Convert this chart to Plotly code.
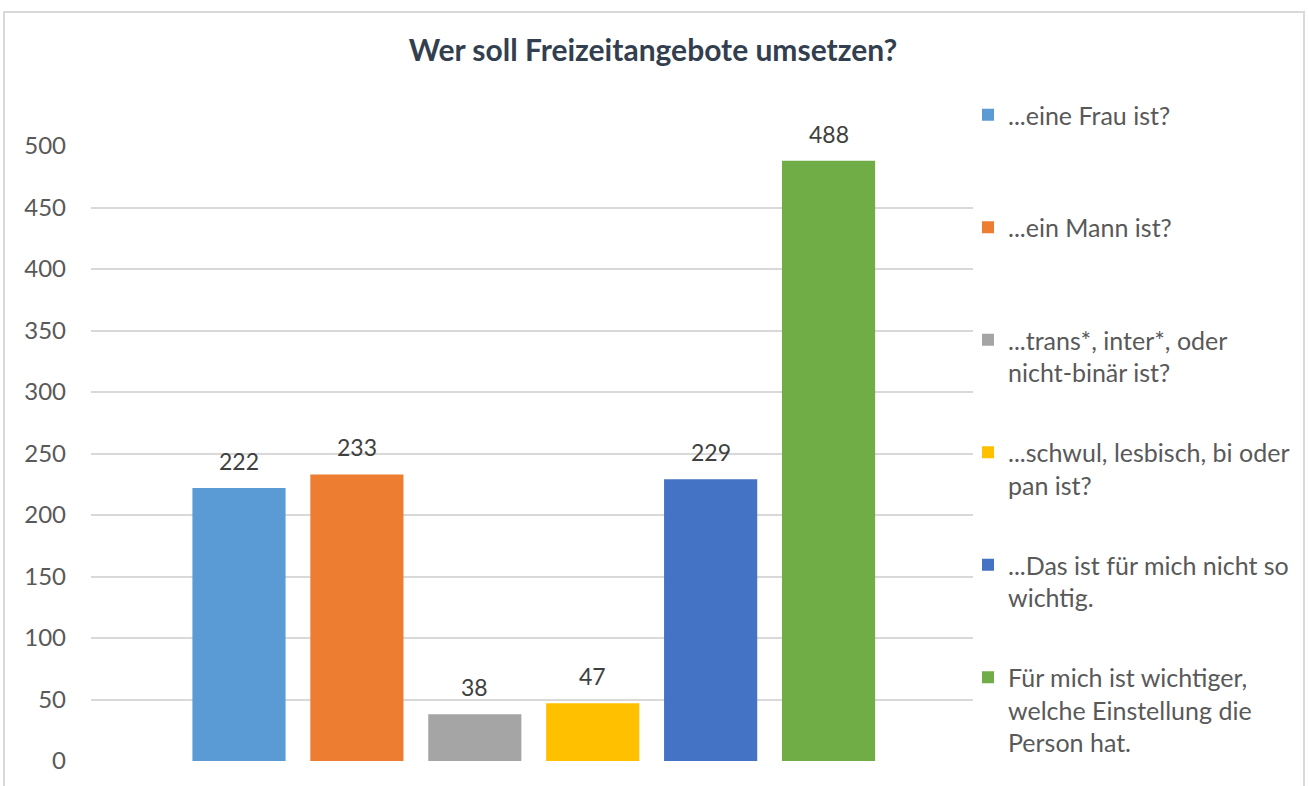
import plotly.graph_objects as go

# ---- data ----
series_names = [
    "...eine Frau ist?",
    "...ein Mann ist?",
    "...trans*, inter*, oder<br>nicht-binär ist?",
    "...schwul, lesbisch, bi oder<br>pan ist?",
    "...Das ist für mich nicht so<br>wichtig.",
    "Für mich ist wichtiger,<br>welche Einstellung die<br>Person hat.",
]
series_keys = ["Frau", "Mann", "trans", "schwul", "unwichtig", "Einstellung"]
values = [222, 233, 38, 47, 229, 488]
colors = ["#5B9BD5", "#ED7D31", "#A5A5A5", "#FFC000", "#4472C4", "#70AD47"]
y_ticks = [0, 50, 100, 150, 200, 250, 300, 350, 400, 450, 500]
title_text = "Wer soll Freizeitangebote umsetzen?"

FONT = "Lato"

def pad_lines(label, n=3):
    k = label.count("<br>") + 1
    return label + "<br> " * (n - k)

fig = go.Figure()
for key, name, val, col in zip(series_keys, series_names, values, colors):
    fig.add_trace(go.Bar(
        x=[key], y=[val], name=pad_lines(name), legendgroup=key,
        marker=dict(color=col, line=dict(width=0)), width=0.79,
        hoverinfo="skip",
    ))
    fig.add_annotation(
        x=key, y=val, text=str(val), showarrow=False, yanchor="bottom",
        yshift=11, font=dict(family=FONT, size=23, color="#404040"),
    )

W, H = 1309, 786
L, R, T, B = 91, 1309 - 973, 146, 786 - 761
pw, ph = W - L - R, H - T - B

def px_x(p):
    return (p - L) / pw

def px_y(p):
    return (H - B - p) / ph

# chart border
fig.add_shape(type="rect", xref="paper", yref="paper",
              x0=px_x(4), x1=px_x(1304), y0=px_y(800), y1=px_y(12),
              line=dict(color="#D9D9D9", width=2), layer="below")

fig.update_layout(
    width=W, height=H,
    margin=dict(l=L, r=R, t=T, b=B, autoexpand=False),
    paper_bgcolor="white", plot_bgcolor="white",
    barmode="overlay",
    title=dict(text="<b>" + title_text + "</b>", x=px_x(653), xref="paper",
               xanchor="center", y=1 - 50 / H, yanchor="middle",
               font=dict(family=FONT, size=30, color="#333F4F")),
    font=dict(family=FONT, color="#595959"),
    showlegend=True,
    legend=dict(x=px_x(968), xanchor="left", y=px_y(92), yanchor="top",
                valign="top", tracegroupgap=12, traceorder="grouped",
                maxheight=1.0,
                font=dict(family=FONT, size=25, color="#595959"),
                bgcolor="rgba(0,0,0,0)"),
    xaxis=dict(type="category", showticklabels=False, showgrid=False,
               zeroline=False, showline=False, ticks="", automargin=False,
               range=[-1.255, 6.225], fixedrange=True),
    yaxis=dict(range=[0, 500], tickvals=y_ticks, showgrid=True,
               gridcolor="#D9D9D9", gridwidth=1.5, zeroline=False,
               showline=False, ticks="", ticklabelstandoff=24, automargin=False,
               fixedrange=True,
               tickfont=dict(family=FONT, size=24, color="#595959")),
)

fig.write_html(
    "out.html",
    config={"displayModeBar": False},
    post_script="document.body.style.margin='0';document.body.style.overflow='hidden';",
)
